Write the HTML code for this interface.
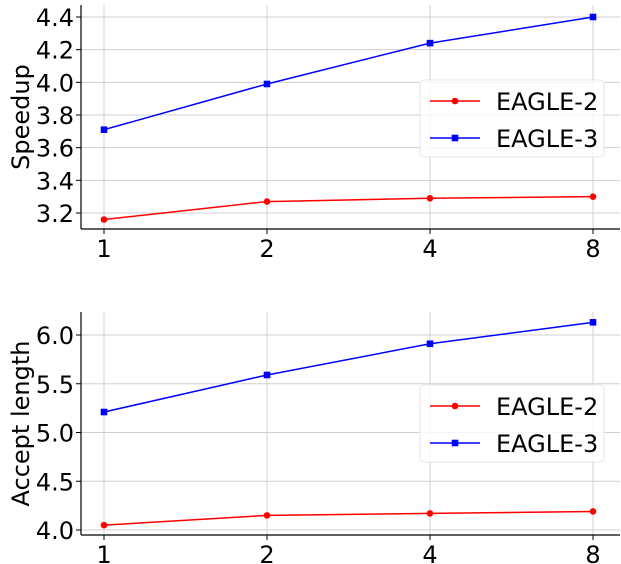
<!DOCTYPE html>
<html><head><meta charset="utf-8"><style>body{margin:0;background:#fff}svg{display:block;font-family:"DejaVu Sans","Liberation Sans",sans-serif}</style></head>
<body>
<svg id="c" width="621" height="564" xmlns="http://www.w3.org/2000/svg"></svg>
<script>
const categories=["1","2","4","8"];
const speedupE2=[3.16,3.27,3.29,3.30];
const speedupE3=[3.71,3.99,4.24,4.40];
const acceptE2=[4.05,4.15,4.17,4.19];
const acceptE3=[5.21,5.59,5.91,6.13];
const speedupTicks=[3.2,3.4,3.6,3.8,4.0,4.2,4.4];
const acceptTicks=[4.0,4.5,5.0,5.5,6.0];
const NS="http://www.w3.org/2000/svg",svg=document.getElementById('c');
function mk(t,a,p){const e=document.createElementNS(NS,t);for(const k in a)e.setAttribute(k,a[k]);(p||svg).appendChild(e);return e;}
function panel(name,top,bottom,v0,y0px,v1,y1px,ticks,dec,label,s2,s3,legY){
  const g=mk('g',{});
  
  
  const L=81,R=620;
  const xs=i=>104+i*163;
  const ys=v=>y0px+(v-v0)*(y1px-y0px)/(v1-v0);
  categories.forEach((c,i)=>{
    const l=mk('line',{x1:xs(i),x2:xs(i),y1:top,y2:bottom,stroke:'#d0d0d0','stroke-width':1},g);
    
    
    mk('line',{x1:xs(i),x2:xs(i),y1:bottom,y2:bottom+5,stroke:'#000'},g);
    const t=mk('text',{x:xs(i),y:bottom+28,'text-anchor':'middle','font-size':24},g);
    t.textContent=c;
    
    
  });
  ticks.forEach(v=>{
    const y=ys(v);
    const l=mk('line',{x1:L,x2:R,y1:y,y2:y,stroke:'#d0d0d0','stroke-width':1},g);
    
    
    mk('line',{x1:L-5,x2:L,y1:y,y2:y,stroke:'#000'},g);
    const t=mk('text',{x:L-7,y:y+9,'text-anchor':'end','font-size':24},g);
    t.textContent=v.toFixed(dec);
    
    
  });
  mk('line',{x1:L,x2:L,y1:top,y2:bottom,stroke:'#000','stroke-width':1.2},g);
  mk('line',{x1:L,x2:R,y1:bottom,y2:bottom,stroke:'#000','stroke-width':1.2},g);
  const yl=mk('text',{x:0,y:0,'text-anchor':'middle','font-size':24,transform:`translate(29,${(top+bottom)/2}) rotate(-90)`},g);
  yl.textContent=label;
  
  
  [[s2,'#ff0000','circle','eagle-2-series'],[s3,'#0000ff','square','eagle-3-series']].forEach(([s,col,m,nm])=>{
    const sg=mk('g',{},g);
    
    
    mk('polyline',{points:s.map((v,i)=>xs(i)+','+ys(v)).join(' '),fill:'none',stroke:col,'stroke-width':1.5},sg);
    s.forEach((v,i)=>{
      const p=m==='circle'?mk('circle',{cx:xs(i),cy:ys(v),r:3.3,fill:col},sg):mk('rect',{x:xs(i)-3.3,y:ys(v)-3.3,width:6.6,height:6.6,fill:col},sg);
      
      
    });
  });
  const lg=mk('g',{},g);
  
  
  mk('rect',{x:420,y:legY,width:184,height:77,rx:4,fill:'#fff','fill-opacity':0.8,stroke:'#e6e6e6'},lg);
  [['EAGLE-2','#ff0000','circle'],['EAGLE-3','#0000ff','square']].forEach(([n,col,m],k)=>{
    const y=legY+21+k*37;
    const e=mk('g',{},lg);
    
    
    mk('line',{x1:430,x2:480,y1:y,y2:y,stroke:col,'stroke-width':1.5},e);
    if(m==='circle')mk('circle',{cx:455,cy:y,r:3.3,fill:col},e);else mk('rect',{x:451.7,y:y-3.3,width:6.6,height:6.6,fill:col},e);
    const t=mk('text',{x:496,y:y+9,'font-size':24},e);t.textContent=n;
  });
}
panel('speedup-panel',5,229,3.2,213,4.4,17,speedupTicks,1,'Speedup',speedupE2,speedupE3,80);
panel('accept-length-panel',312,535,4.0,530,6.0,335,acceptTicks,1,'Accept length',acceptE2,acceptE3,385);
</script>
</body></html>
